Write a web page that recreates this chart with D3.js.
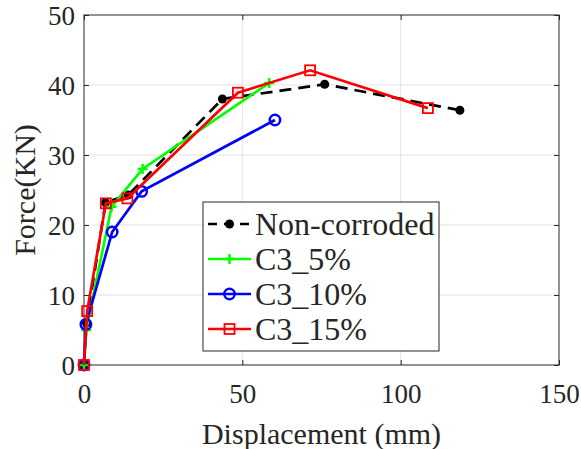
<!DOCTYPE html>
<html>
<head>
<meta charset="utf-8">
<script src="https://cdn.jsdelivr.net/npm/d3@7"></script>
<style>
  body { margin: 0; background: #fff; }
  svg text { font-family: "Times New Roman", "Liberation Serif", "DejaVu Serif", serif !important; fill: #262626; }
</style>
</head>
<body>
<div id="plot_main"></div>
<script>
// data
const seriesNames = ["Non-corroded", "C3_5%", "C3_10%", "C3_15%"];
const nonCorrX = [0, 0.8, 6.8, 14, 43.7, 76, 118.7];
const nonCorrY = [0, 6, 23.2, 24.3, 38, 40.1, 36.4];
const c5X = [0, 0.7, 8.7, 18.5, 58.5];
const c5Y = [0, 5, 22.6, 28, 40.3];
const c10X = [0, 0.6, 8.9, 18.2, 60.3];
const c10Y = [0, 5.8, 19, 24.8, 35];
const c15X = [0, 1, 6.9, 13.7, 48.6, 71.4, 108.6];
const c15Y = [0, 7.7, 23.1, 23.8, 38.9, 42.1, 36.7];
const xTicks = [0, 50, 100, 150];
const yTicks = [0, 10, 20, 30, 40, 50];

const series = [
  { name: seriesNames[0], xs: nonCorrX, ys: nonCorrY, color: "#000000", marker: "dot", dash: "12,7" },
  { name: seriesNames[1], xs: c5X, ys: c5Y, color: "#00ff00", marker: "plus", dash: null },
  { name: seriesNames[2], xs: c10X, ys: c10Y, color: "#0000ff", marker: "circle", dash: null },
  { name: seriesNames[3], xs: c15X, ys: c15Y, color: "#ff0000", marker: "square", dash: null }
];

const W = 581, H = 449;
const margin = { top: 15, left: 84, right: 22, bottom: 84 };
const width = W - margin.left - margin.right,
      height = H - margin.top - margin.bottom;

let svg = d3.select("#plot_main")
  .append("svg")
  .attr("width", W)
  .attr("height", H);

let plot = svg.append("g")
  .attr("transform", `translate(${margin.left},${margin.top})`);

const xScale = d3.scaleLinear().domain([0, 150]).range([0, width]);
const yScale = d3.scaleLinear().domain([0, 50]).range([height, 0]);

// grid
let grid = plot.append("g").attr("class", "grid");
grid.selectAll(".gx").data(xTicks.slice(1, -1)).enter().append("line")
  .attr("x1", d => xScale(d)).attr("x2", d => xScale(d))
  .attr("y1", 0).attr("y2", height)
  .attr("stroke", "#e3e3e3").attr("stroke-width", 1);
grid.selectAll(".gy").data(yTicks.slice(1, -1)).enter().append("line")
  .attr("x1", 0).attr("x2", width)
  .attr("y1", d => yScale(d)).attr("y2", d => yScale(d))
  .attr("stroke", "#e3e3e3").attr("stroke-width", 1);

// axes, ticks inward
const fontSize = 27;
function styleAxis(g) {
  g.attr("font-family", null);
  g.select(".domain").remove();
  g.selectAll(".tick line").attr("stroke", "#262626");
  g.selectAll(".tick text").attr("font-size", fontSize + "px").attr("fill", "#262626");
}
plot.append("g")
  .attr("transform", `translate(0,${height})`)
  .call(d3.axisBottom(xScale).tickValues(xTicks).tickSize(-5).tickPadding(19))
  .call(styleAxis);
plot.append("g")
  .call(d3.axisLeft(yScale).tickValues(yTicks).tickSize(-5).tickPadding(9))
  .call(styleAxis)
  .selectAll(".tick text").attr("dy", "0.36em");
plot.append("g")
  .attr("transform", `translate(${width},0)`)
  .call(d3.axisRight(yScale).tickValues(yTicks).tickSize(-5).tickFormat(""))
  .call(styleAxis);
plot.append("g")
  .call(d3.axisTop(xScale).tickValues(xTicks).tickSize(-5).tickFormat(""))
  .call(styleAxis);

// box
plot.append("rect")
  .attr("width", width).attr("height", height)
  .attr("fill", "none").attr("stroke", "#262626").attr("stroke-width", 1);

// axis labels
svg.append("text")
  .attr("x", margin.left + width / 2)
  .attr("y", 444)
  .attr("text-anchor", "middle")
  .attr("font-size", "30px")
  .text("Displacement (mm)");
svg.append("text")
  .attr("transform", "translate(35,190) rotate(-90)")
  .attr("text-anchor", "middle")
  .attr("font-size", "30px")
  .text("Force(KN)");

function drawMarker(g, type, color, x, y) {
  if (type === "dot") {
    g.append("circle").attr("cx", x).attr("cy", y).attr("r", 4.5).attr("fill", color);
  } else if (type === "plus") {
    g.append("path").attr("d", `M${x - 5},${y}H${x + 5}M${x},${y - 5}V${y + 5}`)
      .attr("stroke", color).attr("stroke-width", 2.5);
  } else if (type === "circle") {
    g.append("circle").attr("cx", x).attr("cy", y).attr("r", 5.2)
      .attr("fill", "none").attr("stroke", color).attr("stroke-width", 2.5);
  } else if (type === "square") {
    g.append("rect").attr("x", x - 5).attr("y", y - 5).attr("width", 10).attr("height", 10)
      .attr("fill", "none").attr("stroke", color).attr("stroke-width", 1.8);
  }
}

// lines
const line = d3.line().x(d => xScale(d[0])).y(d => yScale(d[1]));
let lines = plot.append("g").attr("class", "lines");
for (const s of series) {
  const pts = s.xs.map((x, i) => [x, s.ys[i]]);
  lines.append("path")
    .attr("d", line(pts))
    .attr("fill", "none")
    .attr("stroke", s.color)
    .attr("stroke-width", 2.7)
    .attr("stroke-dasharray", s.dash);
  let mg = lines.append("g");
  for (const p of pts) drawMarker(mg, s.marker, s.color, xScale(p[0]), yScale(p[1]));
}

// legend
let legend = svg.append("g").attr("class", "legend");
legend.append("rect")
  .attr("x", 203).attr("y", 202).attr("width", 236).attr("height", 149)
  .attr("fill", "#fff").attr("stroke", "#262626").attr("stroke-width", 1);
series.forEach((s, i) => {
  const ly = 224 + i * 35;
  legend.append("line")
    .attr("x1", 208).attr("x2", 251).attr("y1", ly).attr("y2", ly)
    .attr("stroke", s.color).attr("stroke-width", 2.7)
    .attr("stroke-dasharray", s.dash ? "9,7" : null);
  drawMarker(legend, s.marker, s.color, 229.5, ly);
  legend.append("text")
    .attr("x", 255).attr("y", ly + 11)
    .attr("font-size", "32px")
    .text(s.name);
});
</script>
</body>
</html>
